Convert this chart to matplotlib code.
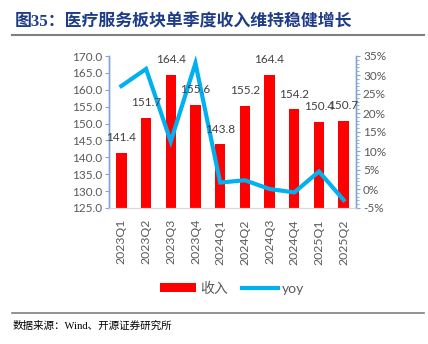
import matplotlib
matplotlib.use("Agg")
import matplotlib.pyplot as plt
from matplotlib.ticker import MultipleLocator, FuncFormatter
from matplotlib.lines import Line2D
from matplotlib.patches import Patch

categories = ["2023Q1", "2023Q2", "2023Q3", "2023Q4", "2024Q1",
              "2024Q2", "2024Q3", "2024Q4", "2025Q1", "2025Q2"]
revenue = [141.4, 151.7, 164.4, 155.6, 143.8, 155.2, 164.4, 154.2, 150.4, 150.7]
yoy = [27.1, 31.6, 12.5, 33.1, 1.7, 2.3, 0.0, -0.9, 4.6, -2.9]

title = "图35：医疗服务板块单季度收入维持稳健增长"
source = "数据来源：Wind、开源证券研究所"

plt.rcParams['font.family'] = ['Lato', 'Noto Sans CJK SC', 'DejaVu Sans']
GRAY = "#595959"
SPINE = "#7FA6D6"

fig = plt.figure(figsize=(4.28, 3.44), dpi=100)
ax = fig.add_axes([109/428, 1-208/344, 247/428, 152/344])
ax2 = ax.twinx()

x = list(range(len(categories)))
ax.bar(x, revenue, width=0.42, color="#FF0000", zorder=2)
ax.set_ylim(125, 170)
ax.set_xlim(-0.5, len(categories) - 0.5)
ax.yaxis.set_major_locator(MultipleLocator(5))
ax.yaxis.set_major_formatter(FuncFormatter(lambda v, p: f"{v:.1f}"))
ax.set_xticks(x)
ax.set_xticklabels(categories, rotation=90)
ax.tick_params(axis='x', length=0, colors=GRAY, labelsize=8.8, pad=8)
ax.tick_params(axis='y', colors=GRAY, labelsize=8.5, length=3, width=0.8, pad=2)
ax.tick_params(axis='y', color=SPINE)

ax2.plot(x, yoy, color="#00B0F0", linewidth=3, solid_joinstyle="miter", zorder=3)
ax2.set_ylim(-5, 35)
ax2.yaxis.set_major_locator(MultipleLocator(5))
ax2.yaxis.set_minor_locator(MultipleLocator(1))
ax2.yaxis.set_major_formatter(FuncFormatter(lambda v, p: f"{v:.0f}%"))
ax2.tick_params(axis='y', which='major', colors=GRAY, labelsize=8.5, length=3, width=0.8, pad=2, color=SPINE)
ax2.tick_params(axis='y', which='minor', length=2, width=0.6, color=SPINE)

for xi, v in zip(x, revenue):
    ax2.annotate(f"{v:.1f}", (xi, v), xycoords=ax.transData, xytext=(0, 11),
                 textcoords="offset points", ha="center", va="center",
                 fontsize=8.5, color="#404040", zorder=5)

for a in (ax, ax2):
    a.spines['top'].set_visible(False)
    a.spines['left'].set_color(SPINE)
    a.spines['right'].set_color(SPINE)
    a.spines['bottom'].set_color("#D9D9D9")
    a.spines['left'].set_linewidth(1.0)
    a.spines['right'].set_linewidth(1.0)

handles = [Patch(facecolor="#FF0000", edgecolor="none"),
           Line2D([0], [0], color="#00B0F0", linewidth=3)]
leg = fig.legend(handles, ["收入", "yoy"], loc="center", bbox_to_anchor=(232/428, 1-288/344),
                 ncol=2, frameon=False, fontsize=10, handlelength=2.6, handleheight=0.6,
                 columnspacing=1.0, handletextpad=0.3)
for t in leg.get_texts():
    t.set_color(GRAY)

fig.text(15/428, 1-22/344, title, fontsize=12.2, fontweight="bold", color="#1F3C88",
         family=['Liberation Serif', 'Noto Sans CJK SC'], ha="left", va="center")
fig.add_artist(Line2D([12/428, 424/428], [1-35/344, 1-35/344], color="#808080", linewidth=1.5))
fig.add_artist(Line2D([12/428, 424/428], [1-313/344, 1-313/344], color="#808080", linewidth=1.2))
fig.text(13/428, 1-326/344, source, fontsize=7.6, color="#000000",
         family=['Liberation Serif', 'Noto Sans CJK SC'], ha="left", va="center")

fig.savefig("out.png", dpi=100)
